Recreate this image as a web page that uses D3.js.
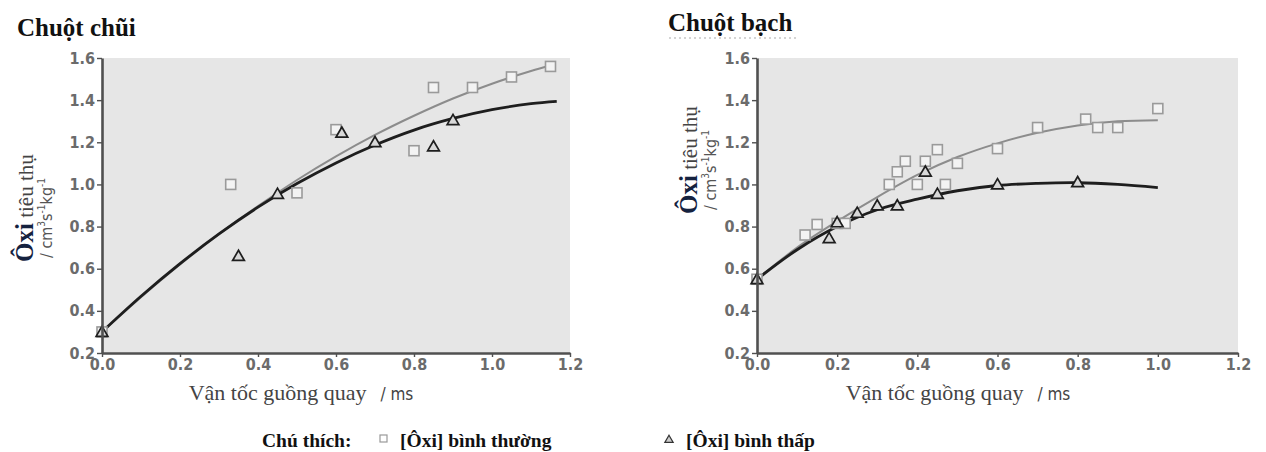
<!DOCTYPE html>
<html>
<head>
<meta charset="utf-8">
<script src="https://cdn.jsdelivr.net/npm/d3@7"></script>
<style>
  body { margin: 0; background: #fff; }
  svg { display: block; }
</style>
</head>
<body>
<svg id="chart" width="1266" height="452"></svg>
<script>
// values
const xTicks = [0.0, 0.2, 0.4, 0.6, 0.8, 1.0, 1.2];
const yTicks = [0.2, 0.4, 0.6, 0.8, 1.0, 1.2, 1.4, 1.6];

// Chuột chũi (mole)
const moleNormal = [
  [0, 0.3], [0.33, 1.0], [0.5, 0.96], [0.6, 1.26], [0.8, 1.16],
  [0.85, 1.46], [0.95, 1.46], [1.05, 1.51], [1.15, 1.56]
];
const moleLow = [
  [0, 0.3], [0.35, 0.66], [0.45, 0.955], [0.615, 1.245], [0.7, 1.2],
  [0.85, 1.18], [0.9, 1.305]
];
const moleNormalFit = [
  [0, 0.3], [0.1, 0.465], [0.2, 0.62], [0.3, 0.764], [0.4, 0.897], [0.5, 1.021],
  [0.6, 1.133], [0.7, 1.235], [0.8, 1.326], [0.9, 1.408], [1.0, 1.478],
  [1.1, 1.538], [1.15, 1.564]
];
const moleLowFit = [
  [0, 0.3], [0.1, 0.469], [0.2, 0.624], [0.3, 0.765], [0.4, 0.892], [0.5, 1.004],
  [0.6, 1.102], [0.7, 1.187], [0.8, 1.258], [0.9, 1.313], [1.0, 1.355],
  [1.1, 1.383], [1.166, 1.394]
];

// Chuột bạch (white rat)
const ratNormal = [
  [0, 0.55], [0.12, 0.76], [0.15, 0.81], [0.2, 0.815], [0.22, 0.815],
  [0.33, 1.0], [0.35, 1.06], [0.37, 1.11], [0.4, 1.0], [0.42, 1.11],
  [0.45, 1.165], [0.47, 1.0], [0.5, 1.1], [0.6, 1.17], [0.7, 1.27],
  [0.82, 1.31], [0.85, 1.27], [0.9, 1.27], [1.0, 1.36]
];
const ratLow = [
  [0, 0.55], [0.18, 0.745], [0.2, 0.82], [0.25, 0.865], [0.3, 0.9],
  [0.35, 0.9], [0.42, 1.06], [0.45, 0.955], [0.6, 1.0], [0.8, 1.01]
];
const ratNormalFit = [
  [0, 0.55], [0.1, 0.70], [0.2, 0.825], [0.3, 0.94], [0.4, 1.045], [0.5, 1.13],
  [0.6, 1.195], [0.7, 1.245], [0.8, 1.28], [0.9, 1.30], [1.0, 1.305]
];
const ratLowFit = [
  [0, 0.55], [0.1, 0.69], [0.2, 0.80], [0.3, 0.88], [0.4, 0.93], [0.5, 0.97],
  [0.6, 0.995], [0.7, 1.005], [0.8, 1.008], [0.9, 1.0], [1.0, 0.985]
];

const svg = d3.select('#chart');
const serif = '"Liberation Serif", "Times New Roman", serif';
const narrow = '"DejaVu Sans Condensed", "Liberation Sans", sans-serif';

// one panel
function panel(opt) {
  const x = d3.scaleLinear().domain([0, 1.2]).range([opt.x0, opt.x1]);
  const y = d3.scaleLinear().domain([0.2, 1.6]).range([353, 58]);
  const g = svg.append('g');

  // title
  svg.append('text')
    .attr('x', opt.titleX).attr('y', opt.titleY)
    .attr('font-family', serif).attr('font-weight', 'bold')
    .attr('font-size', 25).attr('fill', '#111')
    .text(opt.title);

  // grey plot area
  g.append('rect')
    .attr('x', x(0)).attr('y', y(1.6))
    .attr('width', x(1.2) - x(0)).attr('height', y(0.2) - y(1.6))
    .attr('fill', '#e6e6e6');

  // fitted curves
  const line = d3.line().x((d) => x(d[0])).y((d) => y(d[1])).curve(d3.curveCatmullRom.alpha(0.5));
  g.append('path').attr('d', line(opt.normalFit))
    .attr('fill', 'none').attr('stroke', '#8c8c8c').attr('stroke-width', 2);
  g.append('path').attr('d', line(opt.lowFit))
    .attr('fill', 'none').attr('stroke', '#1e1e1e').attr('stroke-width', 2.8);

  // points
  g.selectAll('.sq').data(opt.normal).join('rect')
    .attr('class', 'sq')
    .attr('x', (d) => x(d[0]) - 5).attr('y', (d) => y(d[1]) - 5)
    .attr('width', 10).attr('height', 10)
    .attr('fill', '#f3f3f3').attr('stroke', '#9a9a9a').attr('stroke-width', 1.6);
  g.selectAll('.tri').data(opt.low).join('path')
    .attr('class', 'tri')
    .attr('transform', (d) => `translate(${x(d[0])},${y(d[1]) + 1})`)
    .attr('d', d3.symbol(d3.symbolTriangle, 60))
    .attr('fill', '#d8d8d8').attr('stroke', '#1e1e1e').attr('stroke-width', 1.7);

  // axes
  const yAxis = g.append('g').attr('transform', `translate(${x(0)},0)`)
    .call(d3.axisLeft(y).tickValues(yTicks).tickFormat(d3.format('.1f')).tickSize(5).tickSizeOuter(0).tickPadding(2));
  const xAxis = g.append('g').attr('transform', `translate(0,${y(0.2)})`)
    .call(d3.axisBottom(x).tickValues(xTicks).tickFormat(d3.format('.1f')).tickSize(4).tickSizeOuter(0).tickPadding(2));
  [yAxis, xAxis].forEach((a) => {
    a.select('.domain').attr('stroke', '#505050').attr('stroke-width', 2.6);
    a.selectAll('.tick line').attr('stroke', '#505050').attr('stroke-width', 1.4);
    a.selectAll('.tick text')
      .attr('font-family', narrow).attr('font-size', 16).attr('font-weight', 'bold')
      .attr('fill', '#6b6b6b');
  });

  // x axis title
  const xt = svg.append('text')
    .attr('x', opt.xLabelX).attr('y', 400)
    .attr('text-anchor', 'middle').attr('fill', '#444');
  xt.append('tspan').attr('font-family', serif).attr('font-size', 22).text('Vận tốc guồng quay');
  xt.append('tspan').attr('font-family', narrow).attr('font-size', 17).attr('dx', 14).text('/ ms');

  // y axis title (rotated, two lines)
  const yt = svg.append('g')
    .attr('transform', `translate(${opt.yLabelX},${opt.yLabelY}) rotate(-90)`);
  const l1 = yt.append('text').attr('x', 0).attr('y', 0).attr('fill', '#444');
  l1.append('tspan').attr('font-family', serif).attr('font-weight', 'bold')
    .attr('font-size', 25).attr('fill', '#15223f').text('Ôxi');
  l1.append('tspan').attr('font-family', serif).attr('font-size', 21).text(' tiêu thụ');
  const l2 = yt.append('text').attr('x', 4).attr('y', 19)
    .attr('font-family', narrow).attr('font-size', 16).attr('fill', '#555');
  l2.append('tspan').text('/ cm');
  l2.append('tspan').attr('font-size', 10).attr('dy', -7).text('3');
  l2.append('tspan').attr('dy', 7).text('s');
  l2.append('tspan').attr('font-size', 10).attr('dy', -7).text('-1');
  l2.append('tspan').attr('dy', 7).text('kg');
  l2.append('tspan').attr('font-size', 10).attr('dy', -7).text('-1');
}

panel({
  title: 'Chuột chũi', titleX: 17, titleY: 36,
  x0: 102, x1: 570, xLabelX: 301,
  yLabelX: 33, yLabelY: 262,
  normal: moleNormal, low: moleLow, normalFit: moleNormalFit, lowFit: moleLowFit
});
panel({
  title: 'Chuột bạch', titleX: 668, titleY: 31,
  x0: 757, x1: 1238, xLabelX: 958,
  yLabelX: 697, yLabelY: 214,
  normal: ratNormal, low: ratLow, normalFit: ratNormalFit, lowFit: ratLowFit
});

// dotted underline under the second title
svg.append('line')
  .attr('x1', 669).attr('x2', 796).attr('y1', 38).attr('y2', 38)
  .attr('stroke', '#aaa').attr('stroke-width', 1.2).attr('stroke-dasharray', '2,3');

// legend
const legendFont = { family: serif, size: 19.5 };
svg.append('text').attr('x', 262).attr('y', 447)
  .attr('font-family', legendFont.family).attr('font-weight', 'bold')
  .attr('font-size', legendFont.size).attr('fill', '#111').text('Chú thích:');
svg.append('rect').attr('x', 380).attr('y', 435).attr('width', 7).attr('height', 7)
  .attr('fill', '#fff').attr('stroke', '#999').attr('stroke-width', 1.2);
svg.append('text').attr('x', 400).attr('y', 447)
  .attr('font-family', legendFont.family).attr('font-weight', 'bold')
  .attr('font-size', legendFont.size).attr('fill', '#111').text('[Ôxi] bình thường');
svg.append('path').attr('transform', 'translate(669,440)')
  .attr('d', d3.symbol(d3.symbolTriangle, 30))
  .attr('fill', '#ccc').attr('stroke', '#333').attr('stroke-width', 1.2);
svg.append('text').attr('x', 686).attr('y', 447)
  .attr('font-family', legendFont.family).attr('font-weight', 'bold')
  .attr('font-size', legendFont.size).attr('fill', '#111').text('[Ôxi] bình thấp');
</script>
</body>
</html>
